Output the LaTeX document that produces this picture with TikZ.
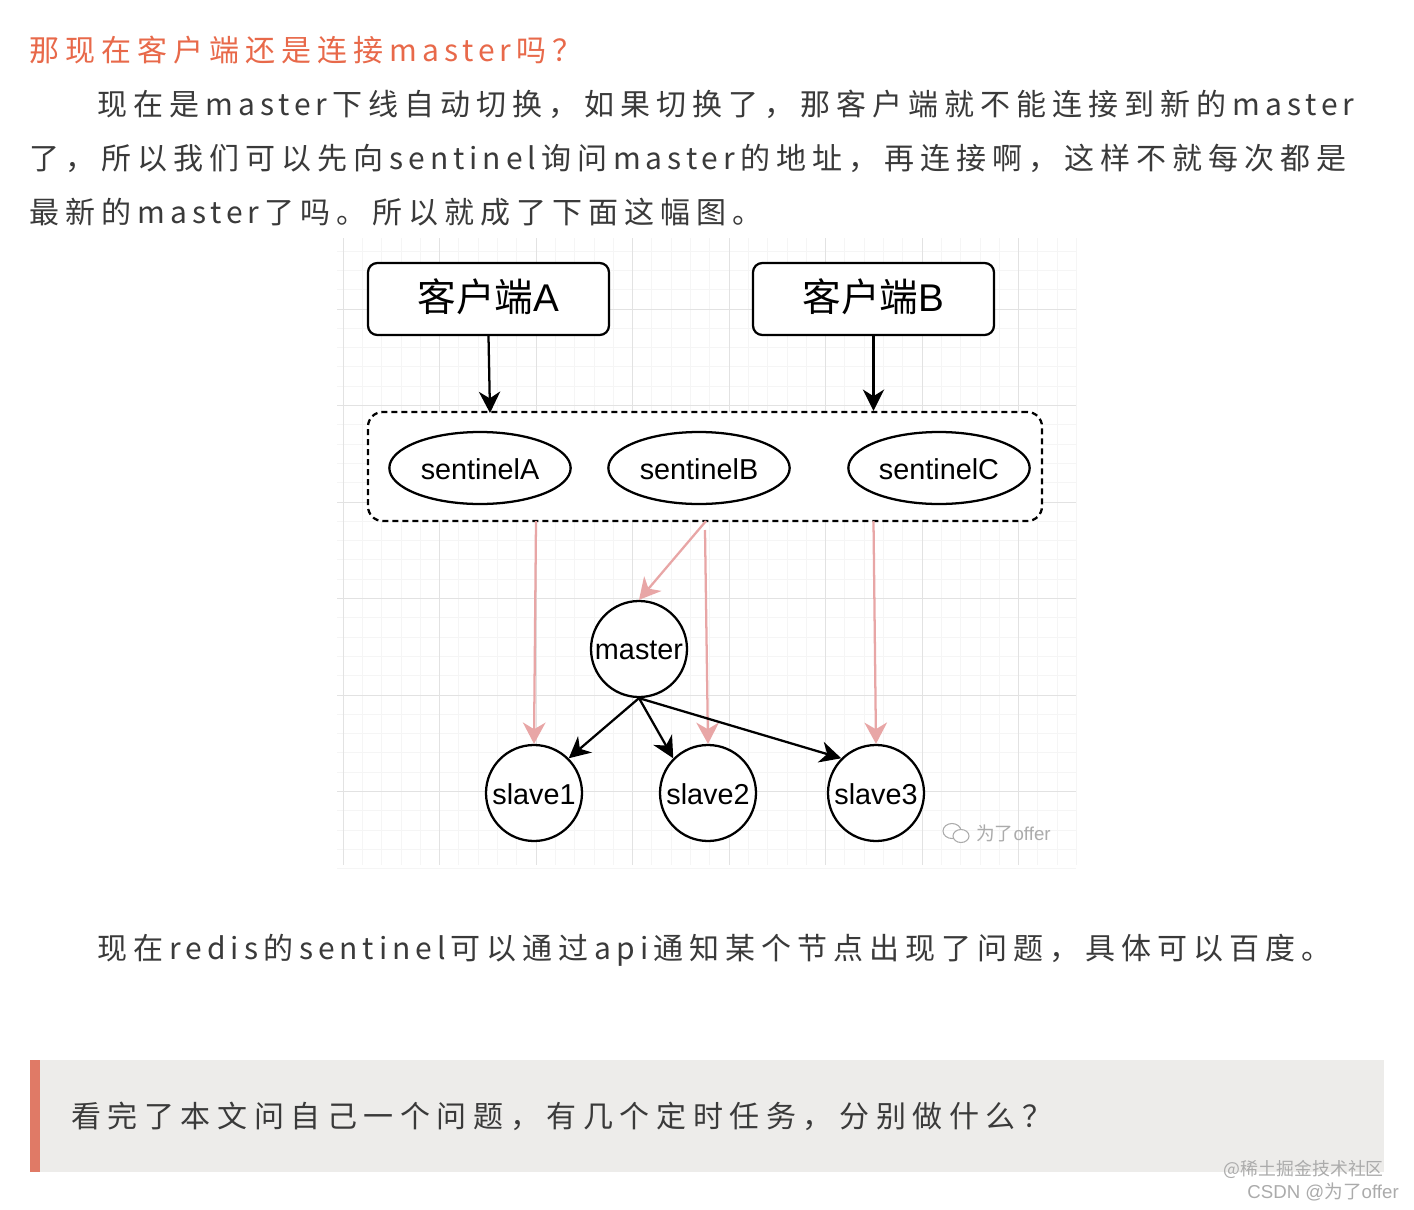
\documentclass[tikz,border=0pt]{standalone}
\usepackage{fontspec}
\setmainfont{Noto Sans CJK SC}
\newfontfamily\diaglat{Liberation Sans}
\usetikzlibrary{arrows.meta,shapes.geometric}
\definecolor{headc}{HTML}{E8694A}
\definecolor{bodyc}{HTML}{3A3A3A}
\definecolor{barc}{HTML}{EDECEA}
\definecolor{accentc}{HTML}{E07A66}
\definecolor{redline}{HTML}{E8A6A6}
\definecolor{gridmajor}{HTML}{E2E2E2}
\definecolor{gridminor}{HTML}{F5F5F5}
\definecolor{markc}{HTML}{ABABAB}
\newcommand{\spaced}[1]{\fontsize{22.5}{26}\selectfont\addfontfeature{LetterSpace=#1}}
\newcommand{\lat}[1]{\kern4.5pt{\addfontfeature{LetterSpace=16.5}#1}\kern3.8pt\relax}
\newcommand{\shifted}[2]{\raisebox{#1}[\height][\depth]{#2}}
\tikzset{
  x=0.75pt,y=-0.75pt,
  txtline/.style={anchor=base west,inner sep=0pt,outer sep=0pt,text=bodyc},
  client/.style={draw=black,line width=1.7pt,rounded corners=7pt,minimum width=180.75pt,minimum height=54pt,inner sep=0pt,fill=white,font=\fontsize{29}{33}\selectfont},
  group/.style={draw=black,line width=1.7pt,dash pattern=on 4.5pt off 3pt,rounded corners=11pt,minimum width=505.5pt,minimum height=81.75pt,inner sep=0pt,fill=white},
  sent/.style={ellipse,draw=black,line width=1.7pt,minimum width=136pt,minimum height=54pt,inner sep=0pt,fill=white,font=\diaglat\fontsize{21.6}{25}\selectfont},
  redisnode/.style={circle,draw=black,line width=1.7pt,minimum size=72pt,inner sep=0pt,fill=white,font=\diaglat\fontsize{21.6}{25}\selectfont},
  blackarrow/.style={draw=black,line width=1.7pt,-{Stealth[length=16pt,width=16pt,inset=5pt]}},
  redarrow/.style={draw=redline,line width=1.7pt,-{Stealth[length=16pt,width=17pt,inset=5pt]}},
}
\begin{document}
\begin{tikzpicture}
\useasboundingbox (0,0) rectangle (1414,1210);
\fill[white] (0,0) rectangle (1414,1210);
% grid
\foreach \i in {0,...,38} \draw[gridminor,line width=0.6pt] ({343+19.3*\i},238) -- ({343+19.3*\i},865);
\foreach \i in {0,...,32} \draw[gridminor,line width=0.6pt] (337,{251+19.3*\i}) -- (1076,{251+19.3*\i});
\foreach \i in {0,...,7} \draw[gridmajor,line width=0.6pt] ({343+96.5*\i},238) -- ({343+96.5*\i},865);
\foreach \i in {0,...,5} \draw[gridmajor,line width=0.6pt] (337,{309+96.5*\i}) -- (1076,{309+96.5*\i});
% text
\node[txtline,text=headc] (t0) at (29.5,61) {\spaced{20}那现在客户端还是连接\lat{master}吗？};
\node[txtline] (t1) at (97.5,115) {\spaced{20}现在是\lat{master}下线自动切换，如果切换了，那客户端就不能连接到新的\lat{master}};
\node[txtline] (t2) at (29.5,169) {\spaced{20}了，所以我们可以先向\lat{sentinel}询问\lat{master}的地址，再连接啊，这样不就每次都是};
\node[txtline] (t3) at (29.5,223) {\spaced{20}最新的\lat{master}了吗。所以就成了下面这幅图。};
\node[txtline] (t4) at (97.5,959) {\spaced{20}现在\lat{redis}的\lat{sentinel}可以通过\lat{api}通知某个节点出现了问题，具体可以百度。};
% diagram nodes
\node[client] (ca) at (488.5,299) {\shifted{2pt}{客户端{\diaglat A}}};
\node[client] (cb) at (873.5,299) {\shifted{2pt}{客户端{\diaglat B}}};
\node[group] (grp) at (705,466.5) {};
\node[sent] (sa) at (480,468) {\shifted{-0.7pt}{sentinelA}};
\node[sent] (sb) at (699,468) {\shifted{-0.7pt}{sentinelB}};
\node[sent] (sc) at (939,468) {\shifted{-0.7pt}{sentinelC}};
\node[redisnode] (m) at (639,649) {\shifted{-1.2pt}{master}};
\node[redisnode] (s1) at (534,793) {\shifted{-1pt}{slave1}};
\node[redisnode] (s2) at (708,793) {\shifted{-1pt}{slave2}};
\node[redisnode] (s3) at (876,793) {\shifted{-1pt}{slave3}};
\coordinate (gin) at (490,413);
\coordinate (gr1) at (536,521);
\coordinate (gr2a) at (706,521);
\coordinate (gr2b) at (705,530);
\coordinate (gr3) at (873.5,521);
% connectors
\draw[blackarrow] (ca.south) -- (gin);
\draw[blackarrow] (cb.south) -- (cb.south |- grp.north);
\draw[redarrow] (gr1) -- (s1.north);
\draw[redarrow] (gr2a) -- (m.north);
\draw[redarrow] (gr2b) -- (s2.north);
\draw[redarrow] (gr3) -- (s3.north);
\draw[blackarrow] (m.south) -- (s1.north east);
\draw[blackarrow] (m.south) -- (s2.north west);
\draw[blackarrow] (m.south) -- (s3.north west);
% diagram watermark
\draw[markc,line width=0.8pt] (952,831) ellipse (9 and 7.5);
\draw[markc,line width=0.8pt,fill=white] (961,836) ellipse (8 and 6.5);
\node[anchor=base west,inner sep=0pt,text=markc,font=\fontsize{14}{17}\selectfont] (wm) at (976,840) {为了{\diaglat offer}};
% bar
\fill[barc] (40,1060) rectangle (1384,1172);
\fill[accentc] (30,1060) rectangle (40,1172);
\node[txtline] (t5) at (71,1127) {\spaced{22}看完了本文问自己一个问题，有几个定时任务，分别做什么？};
% watermarks
\node[anchor=base east,inner sep=0pt,text=markc,font=\fontsize{13.4}{17}\selectfont] (w1) at (1384,1175) {@稀土掘金技术社区};
\node[anchor=base east,inner sep=0pt,text=markc,font=\fontsize{14}{17}\selectfont] (w2) at (1399,1198) {{\diaglat CSDN @}为了{\diaglat offer}};
\end{tikzpicture}
\end{document}
